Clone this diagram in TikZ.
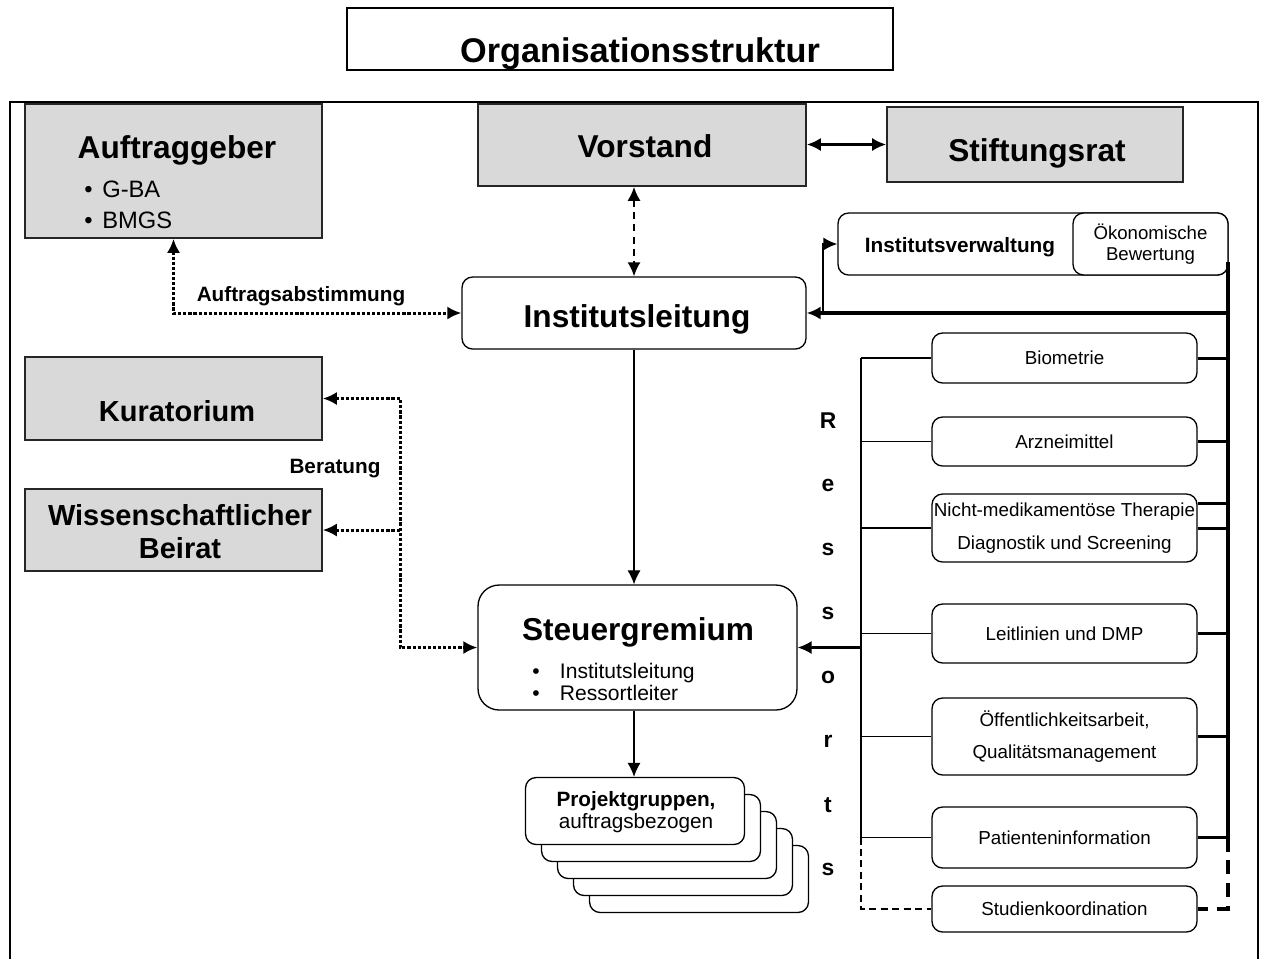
\documentclass[tikz,border=0pt]{standalone}
\usepackage{fontspec}
\setmainfont{Liberation Sans}
\usetikzlibrary{arrows.meta}

\tikzset{
  graubox/.style={draw=black!85, line width=0.9pt, fill=black!15, inner sep=0pt},
  rundbox/.style={draw, line width=0.75pt, rounded corners=6pt, fill=white, inner sep=0pt},
  ressortbox/.style={rundbox, minimum width=5.3cm, align=center,
    font=\fontsize{10.7}{18.5}\selectfont},
  gross/.style={font=\fontsize{18}{21}\selectfont\bfseries},
  mittel/.style={font=\fontsize{16.5}{18.7}\selectfont\bfseries, align=center},
  beschriftung/.style={font=\fontsize{11.8}{14}\selectfont\bfseries},
  buchstabe/.style={font=\fontsize{13}{15}\selectfont\bfseries},
  punktliste/.style={anchor=west, align=left, inner sep=0pt},
  gepunktet/.style={line width=1.7pt, dash pattern=on 1.8pt off 1.1pt},
  dicklinie/.style={line width=1.7pt},
}

\begin{document}
\begin{tikzpicture}[x=0.02cm, y=-0.02cm, >={Latex[length=8pt,width=7.5pt]}]
  \useasboundingbox (0,0) rectangle (1266,958);

  % Rahmen und Titel
  \draw[line width=1pt] (10,962) -- (10,102) -- (1258,102) -- (1258,962);
  \node[draw, line width=0.75pt, minimum width=10.92cm, minimum height=1.24cm] (titel) at (620,39) {};
  \node[font=\fontsize{19.5}{22}\selectfont\bfseries] (titeltext) at (640,54) {Organisationsstruktur};

  % graue Kaesten
  \node[graubox, minimum width=5.94cm, minimum height=2.68cm] (auftraggeber) at (173.5,171) {};
  \node[gross] (auftraggebertext) at (177,150) {Auftraggeber};
  \node[punktliste, font=\fontsize{13.5}{17.6}\selectfont] (auftraggeberliste) at (84,205)
    {\textbullet\hspace{5.5pt}G-BA\\\textbullet\hspace{5.5pt}BMGS};

  \node[graubox, minimum width=6.56cm, minimum height=1.64cm] (vorstand) at (642,145) {};
  \node[gross] (vorstandtext) at (645,146) {Vorstand};

  \node[graubox, minimum width=5.92cm, minimum height=1.5cm] (stiftungsrat) at (1035,144.5) {};
  \node[gross] (stiftungsrattext) at (1037,153) {Stiftungsrat};

  \node[graubox, minimum width=5.94cm, minimum height=1.66cm] (kuratorium) at (173.5,398.5) {};
  \node[mittel] (kuratoriumtext) at (177,411) {Kuratorium};

  \node[graubox, minimum width=5.94cm, minimum height=1.64cm] (beirat) at (173.5,530) {};
  \node[mittel] (beirattext) at (180,532) {Wissenschaftlicher\\Beirat};

  % Leitung
  \node[rundbox, minimum width=6.88cm, minimum height=1.44cm] (leitung) at (634,313) {};
  \node[gross] (leitungtext) at (637,319) {Institutsleitung};

  \node[rundbox, minimum width=7.8cm, minimum height=1.24cm] (verwaltung) at (1033,244) {};
  \node[beschriftung] (verwaltungtext) at (960,247) {Institutsverwaltung};
  \node[rundbox, minimum width=3.1cm, minimum height=1.24cm, align=center,
    font=\fontsize{10.6}{12}\selectfont] (oekonomie) at (1150.5,244) {Ökonomische\\Bewertung};

  \node[rundbox, rounded corners=12pt, minimum width=6.38cm, minimum height=2.5cm] (steuer) at (637.5,647.5) {};
  \node[gross] (steuertext) at (638,632) {Steuergremium};
  \node[punktliste, font=\fontsize{12}{13}\selectfont] (steuerliste) at (532,682)
    {\textbullet\hspace{11.5pt}Institutsleitung\\\textbullet\hspace{11.5pt}Ressortleiter};

  % Projektgruppen
  \foreach \i in {4,3,2,1,0}
    \node[rundbox, minimum width=4.38cm, minimum height=1.34cm] (p\i) at ({635+16*\i},{811+17*\i}) {};
  \node[align=center, font=\fontsize{11.8}{12.2}\selectfont] (projekttext) at (636,812)
    {\textbf{Projektgruppen,}\\auftragsbezogen};

  % Ressorts
  \foreach \l [count=\i from 0] in {R,e,s,s,o,r,t,s}
    \node[buchstabe] (r\i) at (828,{421+64*\i}) {\l};

  \node[ressortbox, minimum height=1cm] (biometrie) at (1064.5,358) {Biometrie};
  \node[ressortbox, minimum height=0.98cm] (arznei) at (1064.5,441.5) {Arzneimittel};
  \node[ressortbox, minimum height=1.36cm] (nichtmed) at (1064.5,528)
    {Nicht-medikamentöse Therapie\\Diagnostik und Screening};
  \node[ressortbox, minimum height=1.18cm] (leitlinien) at (1064.5,633.5) {Leitlinien und DMP};
  \node[ressortbox, minimum height=1.54cm] (oeffentlich) at (1064.5,736.5)
    {Öffentlichkeitsarbeit,\\Qualitätsmanagement};
  \node[ressortbox, minimum height=1.22cm] (patient) at (1064.5,837.5) {Patienteninformation};
  \node[ressortbox, minimum height=0.92cm] (studien) at (1064.5,909) {Studienkoordination};

  % Beschriftungen
  \node[beschriftung] (abstimmung) at (301,296) {Auftragsabstimmung};
  \node[beschriftung] (beratung) at (335,469) {Beratung};

  % Verbindungen
  \draw[<->, line width=1.6pt] (vorstand.east |- stiftungsrat.west) -- (stiftungsrat.west);
  \draw[<->, line width=1.2pt, dash pattern=on 4pt off 3pt] (vorstand.south -| leitung.north) -- (leitung.north);
  \draw[<->, gepunktet] (auftraggeber.south) |- (leitung.west);

  \coordinate (bknick) at (400,647.5);
  \draw[<->, gepunktet] (kuratorium.east) -| (bknick) -- (steuer.west);
  \draw[<-, gepunktet] (beirat.east) -- (beirat.east -| bknick);

  \draw[->, line width=0.75pt] (leitung.south) -- (leitung.south |- steuer.north);
  \draw[->, line width=0.75pt] (steuer.south -| leitung.south) -- (leitung.south |- p0.north);

  % rechte Sammelschiene
  \coordinate (rbus) at (1228,262);
  \coordinate (vknick) at (823,313);
  \draw[<-, line width=2.3pt] (leitung.east) -- (leitung.east -| rbus);
  \draw[->, line width=1.2pt] (vknick) |- (verwaltung.west);
  \draw[line width=1.9pt] (rbus) -- (rbus |- patient.east);
  \foreach \n in {biometrie,arznei,nichtmed,leitlinien,oeffentlich,patient}
    \draw[dicklinie] (\n.east) -- (\n.east -| rbus);
  \draw[dicklinie] ([yshift=0.5cm]nichtmed.east) -- ([yshift=0.5cm]nichtmed.east -| rbus);
  \draw[line width=1.9pt, dash pattern=on 8pt off 5pt] (rbus |- patient.east) -- (rbus |- studien.east) -- (studien.east);

  % linke Sammelschiene
  \coordinate (lbus) at (861,358);
  \draw[line width=0.75pt] (lbus) -- (lbus |- patient.west);
  \foreach \n in {biometrie,arznei,nichtmed,leitlinien,oeffentlich,patient}
    \draw[line width=0.75pt] (\n.west) -- (\n.west -| lbus);
  \draw[line width=0.6pt, dash pattern=on 4pt off 2.5pt] (lbus |- patient.west) -- (lbus |- studien.west) -- (studien.west);
  \draw[->, line width=1.2pt] (lbus |- steuer.east) -- (steuer.east);

\end{tikzpicture}
\end{document}
